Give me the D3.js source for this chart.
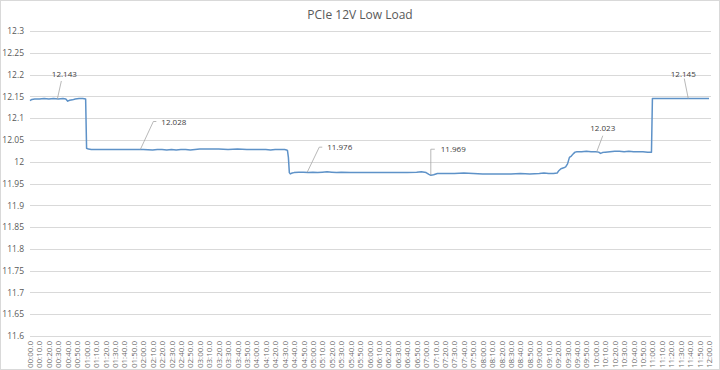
<!DOCTYPE html>
<html>
<head>
<meta charset="utf-8">
<script src="https://cdnjs.cloudflare.com/ajax/libs/d3/7.8.5/d3.min.js"></script>
<style>
  body { margin: 0; background: #fff; }
  text { font-family: "Open Sans", "Noto Sans", sans-serif; }
</style>
</head>
<body>
<div id="wrapper"></div>
<script>
// sample times (seconds) and readings (volts)
var seconds = [0, 2, 5, 10, 15, 20, 25, 30, 35, 38, 40, 42, 45, 48, 52, 56, 59,
    60, 62, 65, 70, 80, 90, 100, 110, 120, 130, 135, 140, 145, 150, 155, 160, 165, 170, 175,
    180, 190, 200, 210, 220, 230, 240, 250, 255, 260, 265, 270, 272, 273,
    274, 275, 276, 278, 280, 285, 290, 295, 300, 305, 310, 315, 320, 325, 330, 340, 350,
    360, 370, 380, 390, 400, 410, 415, 420, 423, 425, 428, 432, 440, 450, 460, 470, 480,
    490, 500, 510, 520, 530, 540, 545, 550, 555, 559,
    561, 563, 566, 568, 570, 572, 574, 576, 578, 580, 585, 590, 595, 600, 603, 605, 607,
    610, 615, 620, 625, 630, 635, 640, 645, 650, 655, 659,
    660, 661, 670, 680, 690, 700, 710, 720];
var volts = [12.140, 12.143, 12.144, 12.144, 12.145, 12.144, 12.145, 12.144, 12.145, 12.144, 12.139, 12.141, 12.142, 12.144, 12.145, 12.145, 12.144,
    12.031, 12.029, 12.028, 12.028, 12.028, 12.028, 12.028, 12.028, 12.028, 12.027, 12.028, 12.028, 12.027, 12.028, 12.027, 12.028, 12.028, 12.027, 12.028,
    12.029, 12.029, 12.029, 12.028, 12.029, 12.028, 12.028, 12.028, 12.027, 12.028, 12.028, 12.028, 12.027, 12.026,
    12.010, 11.975, 11.972, 11.974, 11.975, 11.976, 11.976, 11.975, 11.976, 11.975, 11.976, 11.977, 11.976, 11.975, 11.976, 11.975, 11.975,
    11.975, 11.975, 11.975, 11.975, 11.975, 11.976, 11.977, 11.975, 11.971, 11.969, 11.970, 11.973, 11.973, 11.973, 11.974, 11.973, 11.972,
    11.972, 11.972, 11.972, 11.973, 11.972, 11.973, 11.974, 11.973, 11.973, 11.974,
    11.980, 11.984, 11.986, 11.988, 11.995, 12.010, 12.013, 12.018, 12.022, 12.023, 12.023, 12.024, 12.023, 12.023, 12.022, 12.019, 12.021,
    12.022, 12.023, 12.024, 12.024, 12.023, 12.024, 12.023, 12.023, 12.023, 12.022, 12.022,
    12.145, 12.145, 12.145, 12.145, 12.145, 12.145, 12.145, 12.145];

var yTicks = [11.6, 11.65, 11.7, 11.75, 11.8, 11.85, 11.9, 11.95, 12, 12.05, 12.1, 12.15, 12.2, 12.25, 12.3];

var xTickLabels = ["00:00.0", "00:10.0", "00:20.0", "00:30.0", "00:40.0", "00:50.0",
    "01:00.0", "01:10.0", "01:20.0", "01:30.0", "01:40.0", "01:50.0",
    "02:00.0", "02:10.0", "02:20.0", "02:30.0", "02:40.0", "02:50.0",
    "03:00.0", "03:10.0", "03:20.0", "03:30.0", "03:40.0", "03:50.0",
    "04:00.0", "04:10.0", "04:20.0", "04:30.0", "04:40.0", "04:50.0",
    "05:00.0", "05:10.0", "05:20.0", "05:30.0", "05:40.0", "05:50.0",
    "06:00.0", "06:10.0", "06:20.0", "06:30.0", "06:40.0", "06:50.0",
    "07:00.0", "07:10.0", "07:20.0", "07:30.0", "07:40.0", "07:50.0",
    "08:00.0", "08:10.0", "08:20.0", "08:30.0", "08:40.0", "08:50.0",
    "09:00.0", "09:10.0", "09:20.0", "09:30.0", "09:40.0", "09:50.0",
    "10:00.0", "10:10.0", "10:20.0", "10:30.0", "10:40.0", "10:50.0",
    "11:00.0", "11:10.0", "11:20.0", "11:30.0", "11:40.0", "11:50.0",
    "12:00.0"];

// data callouts: [second, value, label]
var callouts = [[29, 12.144, "12.143"], [117, 12.028, "12.028"], [294, 11.976, "11.976"],
    [425, 11.969, "11.969"], [601, 12.023, "12.023"], [698, 12.145, "12.145"]];
// callout placement: leader bend offset and label side
var calloutLayout = [
    {dx: 4, dy: -18, flat: 0, anchor: "middle", tx: 3, ty: -4},
    {dx: 13, dy: -28, flat: 3, anchor: "start", tx: 5, ty: 3},
    {dx: 12, dy: -25, flat: 3, anchor: "start", tx: 5, ty: 3},
    {dx: 0, dy: -26, flat: 4, anchor: "start", tx: 6, ty: 3},
    {dx: 6, dy: -16, flat: 0, anchor: "middle", tx: 0, ty: -5},
    {dx: -4, dy: -20, flat: 0, anchor: "middle", tx: -1, ty: -2}
];

const width = 720;
const height = 370;

const svg = d3.select("#wrapper")
    .append("svg")
    .attr("width", width)
    .attr("height", height);

svg.append("rect")
    .attr("x", 0.5).attr("y", 0.5)
    .attr("width", width - 1).attr("height", height - 1)
    .attr("fill", "#fff")
    .attr("stroke", "#d9d9d9");

var xScale = d3.scaleLinear().domain([0, 720]).range([30, 709]);
var yScale = d3.scaleLinear().domain([11.6, 12.3]).range([336, 31]);

svg.append("text")
    .attr("x", 360)
    .attr("y", 19)
    .attr("text-anchor", "middle")
    .style("font-size", "12px")
    .style("fill", "#595959")
    .text("PCIe 12V Low Load");

// gridlines
svg.append("g")
    .selectAll("line")
    .data(yTicks)
    .enter()
    .append("line")
    .attr("x1", 30)
    .attr("x2", 711)
    .attr("y1", d => Math.round(yScale(d)) + 0.5)
    .attr("y2", d => Math.round(yScale(d)) + 0.5)
    .attr("stroke", "#d9d9d9");

const yAxis = svg.append("g")
    .attr("transform", "translate(30,0)")
    .call(d3.axisLeft(yScale).tickValues(yTicks).tickSize(0).tickPadding(6).tickFormat(d3.format("")));
yAxis.select(".domain").remove();
yAxis.selectAll("text")
    .style("font-family", "\"Open Sans\", sans-serif")
    .style("font-size", "8.5px")
    .style("fill", "#595959");

const xAxis = svg.append("g")
    .attr("transform", "translate(0,336)")
    .call(d3.axisBottom(xScale)
        .tickValues(d3.range(xTickLabels.length).map(i => i * 10))
        .tickSize(0)
        .tickFormat((d, i) => xTickLabels[i]));
xAxis.select(".domain").remove();
xAxis.selectAll("text")
    .attr("transform", "rotate(-90)")
    .attr("text-anchor", "end")
    .attr("x", -5)
    .attr("y", 0)
    .attr("dy", "0.32em")
    .style("font-family", "\"Open Sans\", sans-serif")
    .style("font-size", "8px")
    .style("fill", "#6b6b6b");

const line = d3.line()
    .x((d, i) => xScale(seconds[i]))
    .y(d => yScale(d));

svg.append("path")
    .datum(volts)
    .attr("d", line)
    .attr("fill", "none")
    .attr("stroke", "#5e92c8")
    .attr("stroke-width", 1.5)
    .attr("stroke-linejoin", "round");

// callouts
const co = svg.append("g");
callouts.forEach(function (c, i) {
    var l = calloutLayout[i];
    var px = xScale(c[0]), py = yScale(c[1]);
    var bx = px + l.dx, by = py + l.dy;
    co.append("polyline")
        .attr("points", [[px, py], [bx, by], [bx + l.flat, by]].map(p => p.join(",")).join(" "))
        .attr("fill", "none")
        .attr("stroke", "#a6a6a6")
        .attr("stroke-width", 0.8);
    co.append("text")
        .attr("x", bx + l.flat + l.tx)
        .attr("y", by + l.ty)
        .attr("text-anchor", l.anchor)
        .style("font-size", "8px")
        .style("fill", "#404040")
        .text(c[2]);
});
</script>
</body>
</html>
